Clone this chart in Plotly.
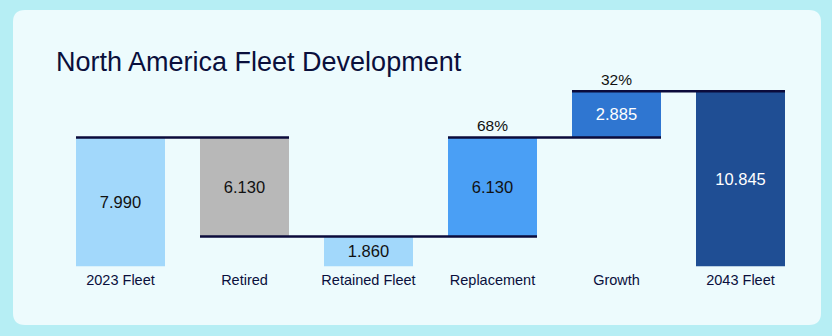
import plotly.graph_objects as go

# ---- data ----
categories = ["2023 Fleet", "Retired", "Retained Fleet", "Replacement", "Growth", "2043 Fleet"]
fleet_2023 = 7.990
retired = 6.130
retained = 1.860
replacement = 6.130
growth = 2.885
fleet_2043 = 10.845

values = [fleet_2023, retired, retained, replacement, growth, fleet_2043]
bases = [0, retained, 0, retained, retained + replacement, 0]
colors = ["#a2d8fb", "#b8b8b8", "#a2d8fb", "#4a9ff5", "#2f76d1", "#1f4e94"]
text_colors = ["#111111", "#111111", "#111111", "#111111", "#ffffff", "#ffffff"]
share_replacement = replacement / (replacement + growth)
share_growth = growth / (replacement + growth)

W, H = 832, 336
bar_w = 89 / 124

fig = go.Figure()
fig.add_trace(go.Bar(
    x=list(range(len(categories))), y=values, base=bases,
    marker=dict(color=colors, line=dict(width=0)),
    width=bar_w,
    text=[f"{v:.3f}" for v in values],
    textposition="inside", insidetextanchor="middle",
    textfont=dict(size=16.5, color=text_colors, family="Liberation Sans, Arial"),
    hoverinfo="skip", showlegend=False,
))

# card background (rounded rectangle in paper coordinates)
x0, x1 = 13 / W, 821 / W
y0, y1 = 1 - 325 / H, 1 - 10 / H
rx, ry = 12 / W, 12 / H
path = (f"M {x0+rx},{y0} L {x1-rx},{y0} Q {x1},{y0} {x1},{y0+ry} "
        f"L {x1},{y1-ry} Q {x1},{y1} {x1-rx},{y1} L {x0+rx},{y1} "
        f"Q {x0},{y1} {x0},{y1-ry} L {x0},{y0+ry} Q {x0},{y0} {x0+rx},{y0} Z")
fig.add_shape(type="path", path=path, xref="paper", yref="paper",
              fillcolor="#edfbfd", line=dict(width=0), layer="below")

# connectors: (from bar, to bar, level)
half = bar_w / 2
connectors = [
    (0, 1, fleet_2023),
    (1, 3, retained),
    (3, 4, retained + replacement),
    (4, 5, fleet_2043),
]
for a, b, lvl in connectors:
    fig.add_shape(type="line", xref="x", yref="y",
                  x0=a - half, x1=b + half, y0=lvl, y1=lvl,
                  line=dict(color="#0b0b3b", width=2.5), layer="above")

# share labels
for idx, share, lvl in [(3, share_replacement, retained + replacement),
                        (4, share_growth, fleet_2043)]:
    fig.add_annotation(x=idx, y=lvl, xref="x", yref="y", text=f"{share:.0%}",
                       showarrow=False, yanchor="bottom", yshift=1,
                       font=dict(size=15.5, color="#111111", family="Liberation Sans, Arial"))

# title
fig.add_annotation(x=54 / W, y=1 - 62 / H, xref="paper", yref="paper",
                   text="North America Fleet Development", showarrow=False,
                   xanchor="left", yanchor="middle",
                   font=dict(size=27, color="#0a0f3c", family="Liberation Sans, Arial"))

base_px = 266.5
ppu = 16.15
ymax = 12
fig.update_layout(
    width=W, height=H,
    margin=dict(l=0, r=0, t=0, b=0),
    paper_bgcolor="#b6eef4", plot_bgcolor="rgba(0,0,0,0)",
    xaxis=dict(domain=[58.5 / W, 802.5 / W], range=[-0.5, len(categories) - 0.5],
               tickmode="array", tickvals=list(range(len(categories))), ticktext=categories,
               showgrid=False, zeroline=False, showline=False, ticks="",
               ticklabelstandoff=3,
               tickfont=dict(size=14.5, color="#0a0f3c", family="Liberation Sans, Arial")),
    yaxis=dict(domain=[1 - base_px / H, 1 - (base_px - ymax * ppu) / H], range=[0, ymax],
               visible=False),
    font=dict(family="Liberation Sans, Arial"),
)

fig.write_html("out.html")
